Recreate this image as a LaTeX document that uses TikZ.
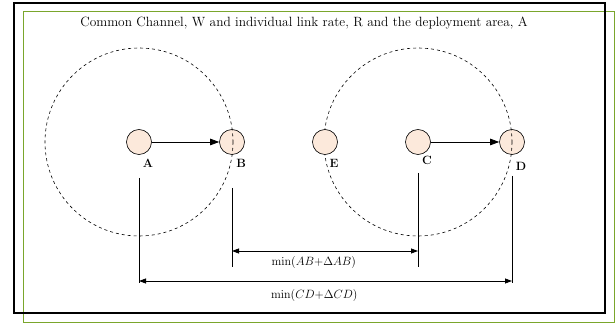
\documentclass[tikz,border=0pt]{standalone}
\usepackage{amsmath}
\usetikzlibrary{arrows.meta, positioning}
\definecolor{stationfill}{RGB}{252,233,219}
\definecolor{framegreen}{RGB}{122,166,44}

\begin{document}
\begin{tikzpicture}[x=1pt, y=-1pt,
  station/.style={circle, draw, line width=0.6pt, fill=stationfill,
                  minimum size=25pt, inner sep=0pt},
  coverage/.style={dashed, line width=0.6pt},
  stname/.style={font=\fontsize{12}{13}\selectfont\bfseries, inner sep=1pt},
  spanline/.style={{Triangle[length=7pt,width=5pt]}-{Triangle[length=7pt,width=5pt]},
              line width=0.8pt},
  extline/.style={line width=0.6pt}]

  \useasboundingbox (0,0) rectangle (616,323);

  % Frames
  \draw[framegreen, line width=1pt] (23,12) rectangle (614,322);
  \draw[line width=1.1pt] (14,3) rectangle (605,313);

  % Title
  \node[font=\fontsize{13.4}{15}\selectfont] (title) at (304,23)
    {Common Channel, W and individual link rate, R and the deployment area, A};

  % Stations
  \node[station] (A) at (139,142) {};
  \node[station] (B) at (232,142) {};
  \node[station] (C) at (418,142) {};
  \node[station] (D) at (512,142) {};

  % Transmission ranges
  \draw[coverage] (A) circle (94);
  \draw[coverage] (C) circle (94);
  \node[station] (E) at (325,142) {};

  % Links
  \draw[line width=0.8pt, -{Triangle[length=9pt,width=6.5pt]}] (A) -- (B);
  \draw[line width=0.8pt, -{Triangle[length=9pt,width=6.5pt]}] (C) -- (D);

  % Labels
  \foreach \s/\gap in {A/7pt, B/7pt, C/4pt, D/10pt, E/7pt}
    \node[stname, below=\gap of \s.south east] (l\s) {\s};

  % Extension lines
  \coordinate (tA) at (139,178);  \coordinate (bA) at (139,283);
  \coordinate (tB) at (232,188);  \coordinate (bB) at (232,267);
  \coordinate (tC) at (418,173);  \coordinate (bC) at (418,267);
  \coordinate (tD) at (512,176);  \coordinate (bD) at (512,283);
  \foreach \s in {A, B, C, D}
    \draw[extline] (t\s) -- (b\s);

  % Distances
  \coordinate (dB) at (232,251);  \coordinate (dC) at (418,251);
  \coordinate (dA) at (139,281);  \coordinate (dD) at (512,281);
  \draw[spanline] (dB) -- node[below=2pt, pos=0.44, font=\fontsize{12}{14}\selectfont]
    (minAB) {$\min(AB{+}\Delta AB)$} (dC);
  \draw[spanline] (dA) -- node[below=5pt, pos=0.47, font=\fontsize{12}{14}\selectfont]
    (minCD) {$\min(CD{+}\Delta CD)$} (dD);

\end{tikzpicture}
\end{document}
